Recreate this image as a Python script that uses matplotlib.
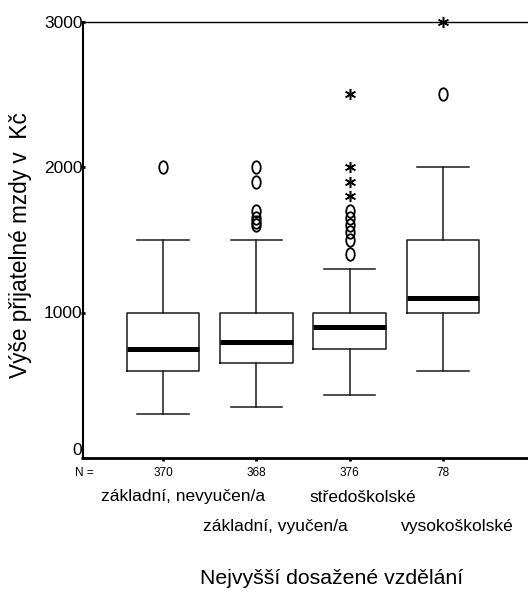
import matplotlib
matplotlib.use("Agg")
import matplotlib.pyplot as plt
from matplotlib.path import Path
from matplotlib.transforms import Affine2D, blended_transform_factory

plt.rcParams['font.family'] = ['Liberation Sans', 'DejaVu Sans']

# ---- data ----
categories = ["základní, nevyučen/a", "základní, vyučen/a", "středoškolské", "vysokoškolské"]
counts = [370, 368, 376, 78]
q1 = [600, 650, 750, 1000]
median = [750, 800, 900, 1100]
q3 = [1000, 1000, 1000, 1500]
whisker_low = [300, 350, 430, 600]
whisker_high = [1500, 1500, 1300, 2000]
outliers = [[2000],
            [1600, 1620, 1650, 1700, 1900, 2000],
            [1400, 1500, 1550, 1600, 1650, 1700],
            [2500]]
extremes = [[], [], [1800, 1900, 2000, 2500], [3000]]
y_ticks = [0, 1000, 2000, 3000]

# ---- layout ----
W, H = 528, 595
fig = plt.figure(figsize=(W / 100, H / 100), dpi=100)
ax = fig.add_axes([83 / W, 137 / H, 445 / W, 436.5 / H])

positions = list(range(1, len(categories) + 1))
stats = [dict(med=m, q1=a, q3=b, whislo=lo, whishi=hi, fliers=[], label="")
         for m, a, b, lo, hi in zip(median, q1, q3, whisker_low, whisker_high)]

line_col = "#1a1a1a"
ax.bxp(stats, positions=positions, widths=0.78, capwidths=0.55, showfliers=False,
       boxprops=dict(color=line_col, lw=1.1),
       whiskerprops=dict(color=line_col, lw=1.1),
       capprops=dict(color=line_col, lw=1.1),
       medianprops=dict(color="black", lw=3.6, solid_capstyle="butt"))

ellipse = Path.unit_circle().transformed(Affine2D().scale(0.68, 1.0))
for p, vals in zip(positions, outliers):
    ax.plot([p] * len(vals), vals, linestyle="none", marker=ellipse, ms=9,
            mfc="none", mec="black", mew=1.3, clip_on=False, zorder=4)
for p, vals in zip(positions, extremes):
    if vals:
        ax.plot([p] * len(vals), vals, linestyle="none", marker=(6, 2, 0), ms=8,
                mec="black", mew=1.1, clip_on=False, zorder=4)

ax.set_xlim(0.1425, 4.911)
ax.set_ylim(0, 3000)

ax.spines["right"].set_visible(False)
ax.spines["top"].set_linewidth(1.0)
ax.spines["left"].set_linewidth(1.5)
ax.spines["bottom"].set_linewidth(2.0)

ax.set_yticks(y_ticks)
ax.set_yticklabels([str(v) for v in y_ticks])
ax.tick_params(axis="y", length=2.5, width=2, direction="inout", pad=-0.8, labelsize=12.5)
ax.set_xticks(positions)
ax.set_xticklabels([str(c) for c in counts])
ax.tick_params(axis="x", length=2.5, width=2, direction="out", pad=4, labelsize=8.5)
ylabels = ax.get_yticklabels()
for lbl in ylabels:
    lbl.set_zorder(0)
ylabels[0].set_va("bottom")

fig.text(94 / W, 1 - 473 / H, "N =", ha="right", va="center", fontsize=8.5)

# category labels (staggered, SPSS style)
label_shift = [0.22, 0.20, 0.14, 0.15]
row_y = [497, 526, 497, 526]
trans = blended_transform_factory(ax.transData, fig.transFigure)
for p, name, dx, ry in zip(positions, categories, label_shift, row_y):
    ax.text(p + dx, 1 - ry / H, name, transform=trans, ha="center", va="center",
            fontsize=12.5, clip_on=False)

fig.text(332 / W, 1 - 578 / H, "Nejvyšší dosažené vzdělání", ha="center", va="center",
         fontsize=15.3)
fig.text(21 / W, 1 - 245 / H, "Výše přijatelné mzdy v  Kč", ha="center", va="center",
         rotation=90, fontsize=16.3)

fig.savefig("out.png", dpi=100)
